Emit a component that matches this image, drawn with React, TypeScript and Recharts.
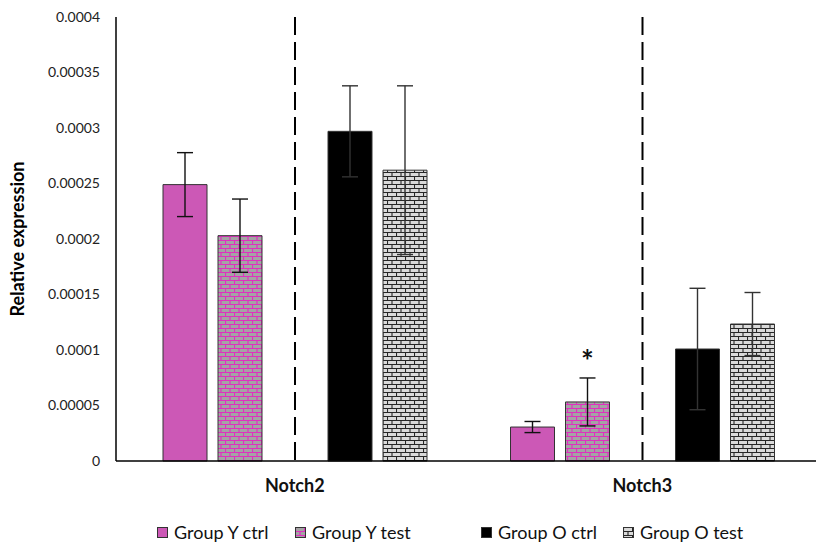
import React from 'react';
import { BarChart, Bar, XAxis, YAxis, ErrorBar, LabelList } from 'recharts';

// gene expression per group (means and standard errors)
const genes = ['Notch2', 'Notch3'];
const groupYCtrl = [0.000249, 0.0000306];
const groupYCtrlErr = [0.0000288, 0.000005];
const groupYTest = [0.000203, 0.0000532];
const groupYTestErr = [0.000033, 0.0000216];
const groupOCtrl = [0.000297, 0.0001009];
const groupOCtrlErr = [0.000041, 0.0000547];
const groupOTest = [0.000262, 0.0001234];
const groupOTestErr = [0.000076, 0.0000284];
const significance = ['', '*'];

const yTicks = [0, 0.00005, 0.0001, 0.00015, 0.0002, 0.00025, 0.0003, 0.00035, 0.0004];
const yMax = 0.0004;

const seriesNames = ['Group Y ctrl', 'Group Y test', 'Group O ctrl', 'Group O test'];

const PINK = '#cc58b6';
const FONT = 'Lato, "Open Sans", sans-serif';

if (typeof document !== 'undefined') document.body.style.margin = '0';

const data = genes.map((gene, i) => ({
  gene,
  yCtrl: groupYCtrl[i],
  yCtrlErr: groupYCtrlErr[i],
  yTest: groupYTest[i],
  yTestErr: groupYTestErr[i],
  divider: yMax,
  oCtrl: groupOCtrl[i],
  oCtrlErr: groupOCtrlErr[i],
  oTest: groupOTest[i],
  oTestErr: groupOTestErr[i],
  sig: significance[i],
}));

const fills = [PINK, 'url(#brickPink)', '#000000', 'url(#brickGray)'];

// empty slot between young and old groups carries the dashed separator
const DividerShape = (props: any) => {
  const { x, y, width, height } = props;
  const cx = x + width / 2;
  return <line x1={cx} x2={cx} y1={y} y2={y + height} stroke="#000" strokeWidth={2} strokeDasharray="18 7" />;
};

const StarLabel = (props: any) => {
  const { x, y, width, height, value, index } = props;
  if (!value) return null;
  const v = groupYTest[index];
  const err = groupYTestErr[index];
  const top = y - err * (height / v);
  return (
    <text x={x + width / 2} y={top - 6} textAnchor="middle" fontSize={30} fontWeight={700} fontFamily={FONT} fill="#111">
      {value}
    </text>
  );
};

export default function App() {
  return (
    <div style={{ position: 'relative', width: 818, height: 544, background: '#fff' }}>
      <svg width={0} height={0} style={{ position: 'absolute' }}>
        <defs>
          <pattern id="brickPink" width={9} height={8} patternUnits="userSpaceOnUse">
            <rect width={9} height={8} fill="#a4a4a4" />
            <path d="M0 0.5H9M0 4.5H9M0.5 0V4.5M5 4.5V8" stroke="#e030c0" strokeWidth={1.2} />
          </pattern>
          <pattern id="brickGray" width={9} height={8} patternUnits="userSpaceOnUse">
            <rect width={9} height={8} fill="#dadada" />
            <path d="M0 0.5H9M0 4.5H9M0.5 0V4.5M5 4.5V8" stroke="#262626" strokeWidth={1.1} />
          </pattern>
        </defs>
      </svg>
      <BarChart
        width={818}
        height={544}
        data={data}
        margin={{ top: 17, right: 2, left: 0, bottom: 53 }}
        barSize={44}
        barGap={11}
        barCategoryGap={42}
      >
        <XAxis
          dataKey="gene"
          height={30}
          padding={{ left: 5, right: 0 }}
          axisLine={{ stroke: '#000', strokeWidth: 1.5 }}
          tickLine={false}
          tickSize={0}
          tickMargin={18}
          tick={{ fill: '#111', fontSize: 18, fontWeight: 700, fontFamily: FONT }}
        />
        <YAxis
          width={116}
          domain={[0, yMax]}
          ticks={yTicks}
          interval={0}
          axisLine={{ stroke: '#000', strokeWidth: 1.5 }}
          tickLine={false}
          tickSize={0}
          tickMargin={16}
          tick={{ fill: '#222', fontSize: 14, fontFamily: FONT }}
          label={{
            value: 'Relative expression',
            angle: -90,
            position: 'insideLeft',
            offset: 18,
            style: { textAnchor: 'middle', fill: '#000', fontSize: 18, fontWeight: 700, fontFamily: FONT },
          }}
        />
        <Bar dataKey="yCtrl" fill={fills[0]} stroke="#333" strokeWidth={1} isAnimationActive={false}>
          <ErrorBar dataKey="yCtrlErr" width={8} stroke="#111" strokeWidth={1.4} />
        </Bar>
        <Bar dataKey="yTest" fill={fills[1]} stroke="#333" strokeWidth={1} isAnimationActive={false}>
          <ErrorBar dataKey="yTestErr" width={8} stroke="#111" strokeWidth={1.4} />
          <LabelList dataKey="sig" content={StarLabel} />
        </Bar>
        <Bar dataKey="divider" shape={DividerShape} isAnimationActive={false} legendType="none" />
        <Bar dataKey="oCtrl" fill={fills[2]} stroke="#333" strokeWidth={1} isAnimationActive={false}>
          <ErrorBar dataKey="oCtrlErr" width={8} stroke="#333" strokeWidth={1.4} />
        </Bar>
        <Bar dataKey="oTest" fill={fills[3]} stroke="#333" strokeWidth={1} isAnimationActive={false}>
          <ErrorBar dataKey="oTestErr" width={8} stroke="#333" strokeWidth={1.4} />
        </Bar>
      </BarChart>
      {/* legend row */}
      {seriesNames.map((name, i) => {
        const left = [157, 295, 481, 623][i];
        return (
          <div
            key={name}
            style={{ position: 'absolute', left, top: 521, display: 'flex', alignItems: 'center', fontFamily: FONT, fontSize: 18, color: '#111' }}
          >
            <svg width={11} height={11} style={{ marginRight: 6 }}>
              <rect x={0.5} y={0.5} width={10} height={10} fill={fills[i]} stroke="#333" strokeWidth={1} />
            </svg>
            <span>{name}</span>
          </div>
        );
      })}
    </div>
  );
}
